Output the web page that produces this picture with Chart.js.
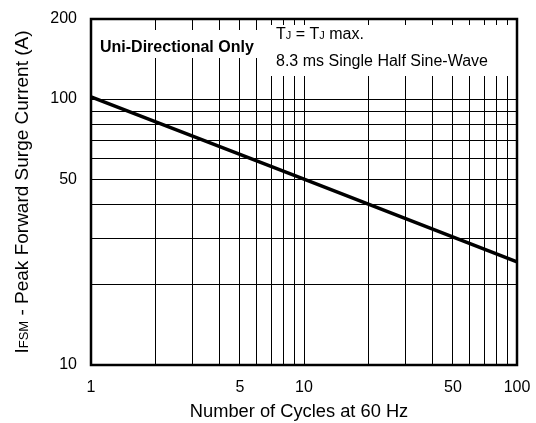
<!DOCTYPE html>
<html>
<head>
<meta charset="utf-8">
<script src="https://cdn.jsdelivr.net/npm/chart.js@4/dist/chart.umd.min.js"></script>
<style>
  html, body { margin: 0; padding: 0; background: #fff; }
  #wrap { width: 536px; height: 423px; }
</style>
</head>
<body>
<div id="wrap"><canvas id="myChart"></canvas></div>
<script>
// data (log-log straight line)
const cycles = [1, 10, 100];
const surgeCurrent = [102, 50, 24.4];

// grid / tick values
const xTicks = [1, 2, 3, 4, 5, 6, 7, 8, 9, 10, 20, 30, 40, 50, 60, 70, 80, 90, 100];
const xLabels = [1, 5, 10, 50, 100];
const yTicks = [10, 20, 30, 40, 50, 60, 70, 80, 90, 100, 200];
const yLabels = [10, 50, 100, 200];

const FONT = "'Liberation Sans', Arial, Helvetica, sans-serif";

// draw text pieces with a shared baseline, some pieces smaller
function drawRuns(ctx, runs, x, y) {
  let cx = x;
  runs.forEach(([txt, size, weight]) => {
    ctx.font = (weight || "normal") + " " + size + "px " + FONT;
    ctx.fillText(txt, cx, y);
    cx += ctx.measureText(txt).width;
  });
}
function runsWidth(ctx, runs) {
  let w = 0;
  runs.forEach(([txt, size, weight]) => {
    ctx.font = (weight || "normal") + " " + size + "px " + FONT;
    w += ctx.measureText(txt).width;
  });
  return w;
}

const overlay = {
  id: "overlay",
  beforeDatasetsDraw(chart) {
    const ctx = chart.ctx;
    // white boxes behind the notes, over the grid
    ctx.save();
    ctx.fillStyle = "#fff";
    ctx.fillRect(95, 30, 168, 28);
    ctx.fillRect(268, 25, 247, 51);
    ctx.restore();
  },
  afterDraw(chart) {
    const ctx = chart.ctx;
    const a = chart.chartArea;
    ctx.save();
    // frame
    ctx.strokeStyle = "#000";
    ctx.lineWidth = 2.5;
    ctx.strokeRect(a.left, a.top, a.right - a.left, a.bottom - a.top);

    ctx.fillStyle = "#000";
    ctx.textBaseline = "alphabetic";
    ctx.textAlign = "left";
    drawRuns(ctx, [["Uni-Directional Only", 16, "bold"]], 100, 52);
    drawRuns(ctx, [["T", 16], ["J", 11], [" = T", 16], ["J", 11], [" max.", 16]], 276, 39);
    drawRuns(ctx, [["8.3 ms Single Half Sine-Wave", 16]], 276, 66);

    // x title
    const xt = [["Number of Cycles at 60 Hz", 18.3]];
    drawRuns(ctx, xt, 299 - runsWidth(ctx, xt) / 2, 417);

    // y title, rotated
    const yt = [["I", 19], ["FSM", 13], [" - Peak Forward Surge Current (A)", 19]];
    ctx.translate(28, 192);
    ctx.rotate(-Math.PI / 2);
    drawRuns(ctx, yt, -runsWidth(ctx, yt) / 2, 0);
    ctx.restore();
  }
};

const data = {
  datasets: [
    {
      label: "IFSM",
      data: cycles.map((c, i) => ({ x: c, y: surgeCurrent[i] })),
      borderColor: "#000",
      borderWidth: 3.5,
      pointRadius: 0,
      fill: false,
    },
  ],
};

const config = {
  type: "line",
  data,
  options: {
    responsive: true,
    maintainAspectRatio: false,
    animation: false,
    layout: { padding: { top: 19, right: 19, left: 0, bottom: 0 } },
    plugins: { legend: { display: false }, tooltip: { enabled: false } },
    scales: {
      x: {
        type: "logarithmic",
        min: 1,
        max: 100,
        afterBuildTicks: (s) => { s.ticks = xTicks.map((v) => ({ value: v })); },
        afterFit: (s) => { s.height = 58; s.paddingLeft = 0; s.paddingRight = 0; },
        grid: { color: "#000", lineWidth: 1, drawTicks: false },
        border: { display: false },
        ticks: {
          autoSkip: false,
          maxRotation: 0,
          padding: 13,
          color: "#000",
          font: { family: FONT, size: 16 },
          callback: (v) => (xLabels.includes(v) ? String(v) : ""),
        },
      },
      y: {
        type: "logarithmic",
        min: 10,
        max: 200,
        afterBuildTicks: (s) => { s.ticks = yTicks.map((v) => ({ value: v })); },
        afterFit: (s) => { s.width = 91; s.paddingTop = 0; s.paddingBottom = 0; },
        grid: { color: "#000", lineWidth: 1, drawTicks: false },
        border: { display: false },
        ticks: {
          autoSkip: false,
          padding: 14,
          color: "#000",
          font: { family: FONT, size: 16 },
          callback: (v) => (yLabels.includes(v) ? String(v) : ""),
        },
      },
    },
  },
  plugins: [overlay],
};

const myChart = new Chart(document.getElementById("myChart"), config);
</script>
</body>
</html>
